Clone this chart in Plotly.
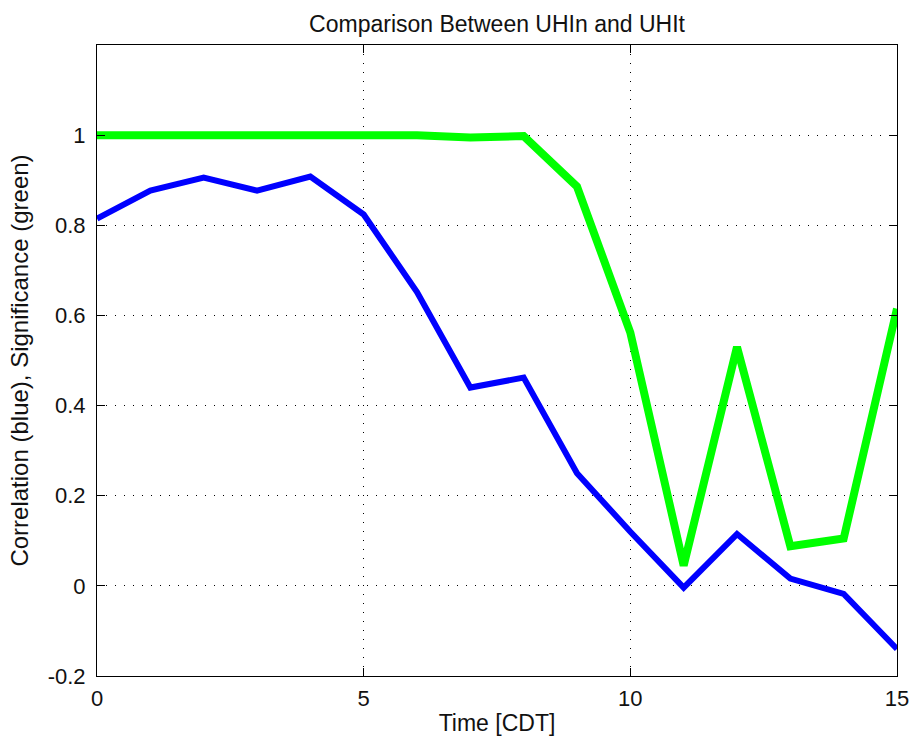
import plotly.graph_objects as go

time = list(range(16))
correlation = [0.815, 0.877, 0.906, 0.877, 0.908, 0.824, 0.652, 0.44, 0.462,
               0.25, 0.12, -0.004, 0.115, 0.016, -0.018, -0.14]
significance = [1.0, 1.0, 1.0, 1.0, 1.0, 1.0, 1.0, 0.995, 0.998,
                0.886, 0.562, 0.045, 0.53, 0.088, 0.105, 0.615]
xticks = [0, 5, 10, 15]
yticks = [-0.2, 0, 0.2, 0.4, 0.6, 0.8, 1.0]
yticklabels = ["-0.2", "0", "0.2", "0.4", "0.6", "0.8", "1"]

FONT = "Liberation Sans, Arial, sans-serif"
TXT = "#111111"

fig = go.Figure()
fig.add_trace(go.Scatter(x=time, y=correlation, mode="lines",
                         line=dict(color="#0000ff", width=6), showlegend=False))
fig.add_trace(go.Scatter(x=time, y=significance, mode="lines",
                         line=dict(color="#00ff00", width=8), showlegend=False))

axis_common = dict(
    showline=True, linecolor="black", linewidth=1, mirror="ticks",
    ticks="inside", ticklen=8, tickcolor="black", tickwidth=1,
    showgrid=True, gridcolor="black", gridwidth=1, griddash="1px,8px",
    zeroline=False, automargin=False,
    tickfont=dict(family=FONT, size=22, color=TXT),
)

fig.update_xaxes(range=[0, 15], tickvals=xticks, ticktext=[str(t) for t in xticks],
                 ticklabelstandoff=3,
                 title=dict(text="Time [CDT]", font=dict(family=FONT, size=23, color=TXT),
                            standoff=4),
                 **axis_common)
fig.update_yaxes(range=[-0.2, 1.2], tickvals=yticks, ticktext=yticklabels,
                 ticklabelstandoff=6,
                 title=dict(text="Correlation (blue), Significance (green)",
                            font=dict(family=FONT, size=24, color=TXT), standoff=12),
                 **axis_common)

fig.update_layout(
    width=911, height=742,
    margin=dict(l=97, r=14, t=45, b=66),
    paper_bgcolor="white", plot_bgcolor="white",
    title=dict(text="Comparison Between UHIn and UHIt", x=(97 + 897) / 2 / 911,
               xanchor="center", y=1 - 24 / 742, yanchor="middle",
               font=dict(family=FONT, size=23, color=TXT)),
)

fig.write_html("out.html", config={"displayModeBar": False},
               post_script="document.body.style.margin='0';")
